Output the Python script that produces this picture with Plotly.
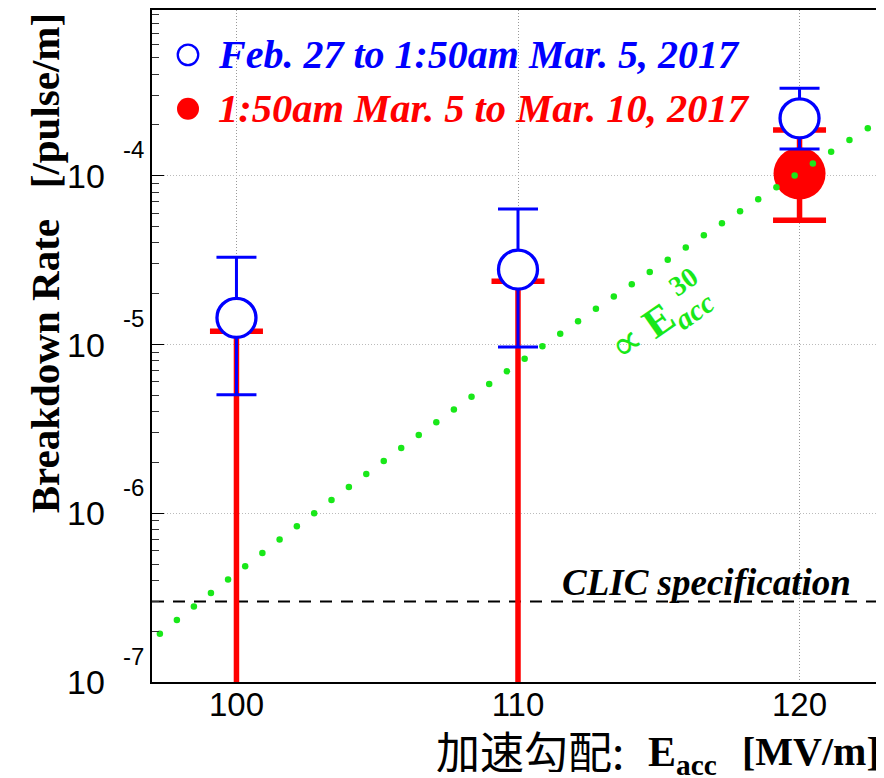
import math
import plotly.graph_objects as go

# ---------------- data ----------------
E_acc = [100, 110, 120]                       # MV/m
blue_rate = [1.44e-5, 2.78e-5, 2.19e-4]       # Feb.27 - Mar.5
blue_upper = [3.29e-5, 6.35e-5, 3.30e-4]
blue_lower = [5.04e-6, 9.66e-6, 1.44e-4]
red_rate = [0.0, 0.0, 1.03e-4]                # Mar.5 - Mar.10 (0 -> upper limit only)
red_upper = [1.20e-5, 2.37e-5, 1.87e-4]
red_lower = [0.0, 0.0, 5.45e-5]
clic_spec = 3.0e-7                            # /pulse/m
fit_exponent = 30
fit_ref_E = 120.0
fit_ref_rate = 1.05e-4
x_range = [97, 123]
y_decades = [-7, -6, -5, -4]

blue_label = "Feb. 27 to 1:50am Mar. 5, 2017"
red_label = "1:50am Mar. 5 to Mar. 10, 2017"

# ---------------- layout constants ----------------
OFF = 8                      # page body margin of the html page
W, H = 884, 778
ML, MR, MT, MB = 144, 8, 0, 104
PW, PH = W - ML - MR, H - MT - MB
y_top = -3 - 3 / 169.25      # top of the frame sits 3px lower than a full decade

def px_x(px):
    return (px - OFF - ML) / PW

def px_y(py):
    return (H - MB - (py - OFF)) / PH

BLUE = "#0000ff"
RED = "#ff0000"
GREEN = "rgb(25,232,25)"

fig = go.Figure()

# CLIC specification line
fig.add_trace(go.Scatter(
    x=x_range, y=[clic_spec, clic_spec], mode="lines",
    line=dict(color="black", width=1.8, dash="12px,9px"),
    hoverinfo="skip", showlegend=False))

# red series (upper limits where rate == 0)
red_y = [r if r > 0 else u for r, u in zip(red_rate, red_upper)]
red_plus = [u - y for u, y in zip(red_upper, red_y)]
red_minus = [y - l for y, l in zip(red_y, red_lower)]
red_size = [52 if r > 0 else 0 for r in red_rate]
fig.add_trace(go.Scatter(
    x=E_acc, y=red_y, mode="markers",
    marker=dict(color=RED, size=red_size, opacity=1, line=dict(width=0)),
    error_y=dict(type="data", symmetric=False, array=red_plus, arrayminus=red_minus,
                 color=RED, thickness=5.5, width=26.5),
    showlegend=False))

# blue series
fig.add_trace(go.Scatter(
    x=E_acc, y=blue_rate, mode="markers",
    marker=dict(color="white", size=39, symbol="circle", opacity=1,
                line=dict(color=BLUE, width=3.3)),
    error_y=dict(type="data", symmetric=False,
                 array=[u - v for u, v in zip(blue_upper, blue_rate)],
                 arrayminus=[v - l for v, l in zip(blue_rate, blue_lower)],
                 color=BLUE, thickness=3, width=20),
    showlegend=False))

# E^30 guide, drawn as dots evenly spaced on screen
px_per_E = PW / (x_range[1] - x_range[0])
px_per_dec = PH / (y_top - y_decades[0])
fit_E = []
e = 97.28
while e <= x_range[1]:
    fit_E.append(e)
    slope = fit_exponent / (e * math.log(10))
    e += 21.8 / math.hypot(px_per_E, px_per_dec * slope)
fit_rate = [fit_ref_rate * (v / fit_ref_E) ** fit_exponent for v in fit_E]
fig.add_trace(go.Scatter(
    x=fit_E, y=fit_rate, mode="markers",
    marker=dict(color=GREEN, size=6.5, line=dict(width=0)),
    hoverinfo="skip", showlegend=False))

# legend symbols on an overlay axis
fig.add_trace(go.Scatter(
    x=[px_x(188)], y=[px_y(53)], xaxis="x2", yaxis="y2", mode="markers",
    marker=dict(color="rgba(0,0,0,0)", size=20.5, line=dict(color=BLUE, width=2.3)),
    showlegend=False, hoverinfo="skip"))
fig.add_trace(go.Scatter(
    x=[px_x(188)], y=[px_y(107)], xaxis="x2", yaxis="y2", mode="markers",
    marker=dict(color=RED, size=22, line=dict(width=0)),
    showlegend=False, hoverinfo="skip"))

ann = []
serif = "Liberation Serif"
sans = "Liberation Sans"
ann.append(dict(text=blue_label, xref="paper", yref="paper", x=px_x(216), y=px_y(53),
                xanchor="left", yanchor="middle", showarrow=False,
                font=dict(family=serif, size=40, color=BLUE, weight="bold", style="italic")))
ann.append(dict(text=red_label, xref="paper", yref="paper", x=px_x(216), y=px_y(107),
                xanchor="left", yanchor="middle", showarrow=False,
                font=dict(family=serif, size=40.5, color=RED, weight="bold", style="italic")))
ann.append(dict(text="CLIC specification", xref="paper", yref="paper", x=px_x(560), y=px_y(582),
                xanchor="left", yanchor="middle", showarrow=False,
                font=dict(family=serif, size=37, color="black", weight="bold", style="italic")))
# proportionality label
ann.append(dict(text="∝ <b>E</b><sub><b><i>acc</i></b></sub>", xref="paper", yref="paper",
                x=px_x(660), y=px_y(322), xanchor="center", yanchor="middle", textangle=-35,
                showarrow=False, font=dict(family=serif, size=42, color=GREEN)))
ann.append(dict(text="<b>%d</b>" % fit_exponent, xref="paper", yref="paper",
                x=px_x(683), y=px_y(280), xanchor="center", yanchor="middle", textangle=-35,
                showarrow=False, font=dict(family=serif, size=28, color=GREEN)))
# y tick labels 10^k
for k in y_decades:
    ann.append(dict(text="10", xref="paper", yref="y", x=px_x(107), y=k,
                    xanchor="right", yanchor="middle", showarrow=False,
                    font=dict(family=sans, size=34, color="black")))
    ann.append(dict(text="%d" % k, xref="paper", yref="y", x=px_x(121), y=k, yshift=26,
                    xanchor="left", yanchor="middle", showarrow=False,
                    font=dict(family=sans, size=24, color="black")))
# axis titles
ann.append(dict(text="Breakdown Rate\u00a0\u00a0\u00a0[/pulse/m]", xref="paper", yref="paper",
                x=px_x(45), y=px_y(262), xanchor="center", yanchor="middle", textangle=-90,
                showarrow=False, font=dict(family=serif, size=41, color="black", weight="bold")))
ann.append(dict(text="加速勾配:", xref="paper", yref="paper", x=px_x(434), y=px_y(750),
                xanchor="left", yanchor="middle", showarrow=False, height=44,
                font=dict(family="Noto Sans CJK JP", size=44, color="black")))
ann.append(dict(text="<b>E</b><sub><b>acc</b></sub>", xref="paper", yref="paper",
                x=px_x(646), y=px_y(755), xanchor="left", yanchor="middle", showarrow=False,
                height=44, font=dict(family=serif, size=42, color="black")))
ann.append(dict(text="<b>[MV/m]</b>", xref="paper", yref="paper", x=px_x(740), y=px_y(751),
                xanchor="left", yanchor="middle", showarrow=False, height=44,
                font=dict(family=serif, size=40, color="black")))

grid_dash = "1px,2px"
fig.update_layout(
    width=W, height=H,
    margin=dict(l=ML, r=MR, t=MT, b=MB),
    paper_bgcolor="white", plot_bgcolor="white",
    showlegend=False,
    annotations=ann,
    xaxis=dict(range=x_range, tickvals=E_acc, ticks="", showline=True, linewidth=2,
               linecolor="black", mirror=True, showgrid=True, gridcolor="#999999",
               griddash=grid_dash, gridwidth=1, zeroline=False,
               tickfont=dict(family=sans, size=33, color="black"), ticklabelstandoff=-8),
    yaxis=dict(type="log", range=[y_decades[0], y_top], dtick=1,
               showticklabels=False, ticks="inside", ticklen=12, tickwidth=1.2,
               tickcolor="black", showline=True, linewidth=2, linecolor="black",
               showgrid=True, gridcolor="#bbbbbb", griddash=grid_dash, gridwidth=1,
               minor=dict(ticks="inside", ticklen=7, tickwidth=1, tickcolor="#333333",
                          dtick="D1", showgrid=False)),
    xaxis2=dict(overlaying="x", range=[0, 1], visible=False, fixedrange=True),
    yaxis2=dict(overlaying="y", range=[0, 1], visible=False, fixedrange=True),
)

fig.write_html("out.html")
